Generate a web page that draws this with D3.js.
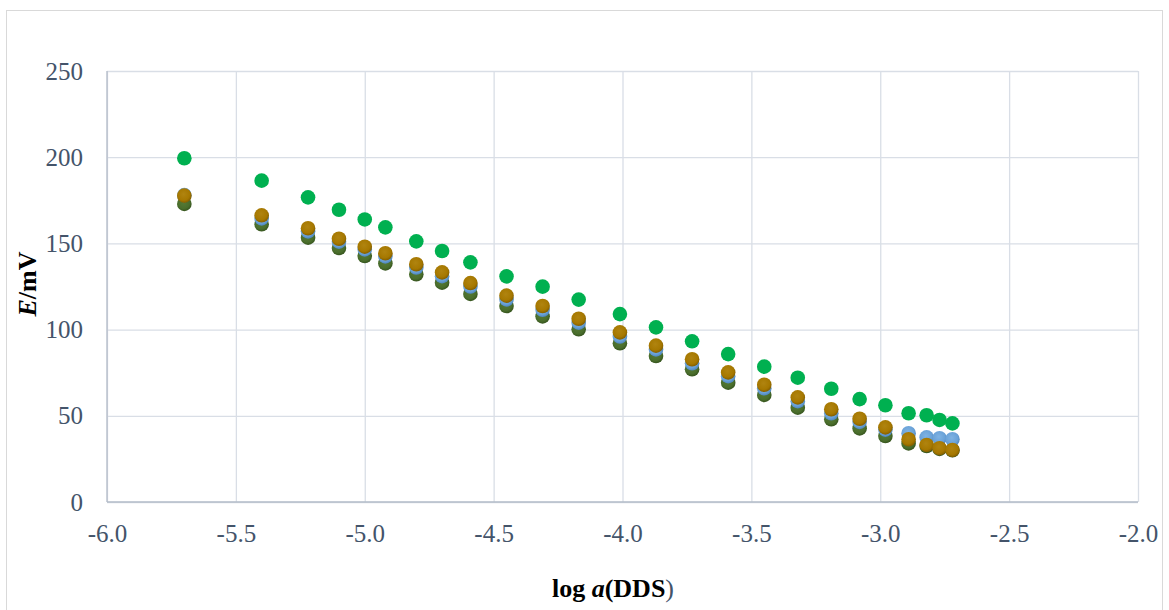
<!DOCTYPE html>
<html>
<head>
<meta charset="utf-8">
<script src="https://cdn.jsdelivr.net/npm/d3@7"></script>
<style>
  body { margin: 0; background: #fff; }
  svg text { font-family: "Liberation Serif", "Times New Roman", serif !important; }
</style>
</head>
<body>
<div id="graph"></div>
<script>
// log activity of DDS (x) and potential readings E/mV (four runs)
var logA = [-5.70, -5.40, -5.22, -5.10, -5.00, -4.92, -4.80, -4.70, -4.59, -4.45,
            -4.31, -4.17, -4.01, -3.87, -3.73, -3.59, -3.45, -3.32, -3.19, -3.08,
            -2.98, -2.89, -2.82, -2.77, -2.72];
var run1 = [199.4, 186.4, 176.7, 169.5, 163.9, 159.3, 151.2, 145.6, 139.0, 130.9,
            124.9, 117.4, 109.0, 101.3, 93.2, 85.8, 78.5, 72.1, 65.7, 59.7,
            56.1, 51.5, 50.3, 47.6, 45.6];
var run2 = [172.9, 161.1, 153.3, 147.3, 142.7, 138.4, 132.1, 127.2, 120.7, 113.7,
            107.7, 100.2, 92.1, 84.7, 77.0, 69.2, 62.1, 54.7, 48.0, 42.7,
            38.3, 34.0, 32.5, 30.8, 30.0];
var run3 = [178.0, 164.5, 157.0, 151.0, 146.5, 142.5, 136.0, 131.0, 125.0, 117.5,
            111.5, 104.0, 96.0, 88.5, 80.5, 73.0, 66.0, 58.5, 51.5, 46.5,
            42.0, 39.9, 37.5, 37.0, 36.4];
var run4 = [177.7, 166.3, 158.8, 152.7, 148.1, 144.3, 137.9, 133.2, 127.0, 119.7,
            113.7, 106.3, 98.4, 90.7, 82.8, 75.2, 68.0, 60.7, 53.8, 48.3,
            43.3, 36.4, 33.1, 31.2, 30.2];
var xTicks = [-6.0, -5.5, -5.0, -4.5, -4.0, -3.5, -3.0, -2.5, -2.0];
var yTicks = [0, 50, 100, 150, 200, 250];

var serif = '"Liberation Serif", "Times New Roman", serif';
var W = 1169, H = 610;
var margin = {top: 71, right: 31, bottom: 108, left: 107};
var width = W - margin.left - margin.right,
    height = H - margin.top - margin.bottom;

var svg = d3.select("#graph").append("svg")
    .attr("width", W)
    .attr("height", H)
    .attr("font-family", serif);

// marker shading like the office chart
var defs = svg.append("defs");
function shade(id, light, mid, dark) {
  var g = defs.append("radialGradient").attr("id", id)
      .attr("cx", "45%").attr("cy", "40%").attr("r", "60%");
  g.append("stop").attr("offset", "0%").attr("stop-color", light);
  g.append("stop").attr("offset", "70%").attr("stop-color", mid);
  g.append("stop").attr("offset", "100%").attr("stop-color", dark);
}
shade("gBlue", "#7fb3e3", "#6aa2d8", "#4f86bd");
shade("gDark", "#567a36", "#4a6e2c", "#36541e");
shade("gBrown", "#b08410", "#a67800", "#835e00");

// outer chart border
svg.append("rect")
    .attr("x", 6.5).attr("y", 10.5)
    .attr("width", 1156).attr("height", 640)
    .attr("fill", "none")
    .attr("stroke", "#d9d9d9");

var g = svg.append("g")
    .attr("transform", "translate(" + margin.left + "," + margin.top + ")");

var x = d3.scaleLinear().domain([-6, -2]).range([0, width]);
var y = d3.scaleLinear().domain([0, 250]).range([height, 0]);

// gridlines
g.append("g")
    .call(d3.axisLeft(y).tickValues(yTicks).tickSize(-width).tickFormat(""))
    .call(function(a) { a.select(".domain").remove(); })
    .selectAll("line").attr("stroke", "#d9dee6").attr("stroke-width", 1.3);
g.append("g")
    .attr("transform", "translate(0," + height + ")")
    .call(d3.axisBottom(x).tickValues(xTicks).tickSize(-height).tickFormat(""))
    .call(function(a) { a.select(".domain").remove(); })
    .selectAll("line").attr("stroke", "#d9dee6").attr("stroke-width", 1.3);

// axis lines
g.append("line")
    .attr("x1", 0).attr("x2", 0).attr("y1", 0).attr("y2", height)
    .attr("stroke", "#b3bcc8").attr("stroke-width", 1.3);
g.append("line")
    .attr("x1", 0).attr("x2", width).attr("y1", height).attr("y2", height)
    .attr("stroke", "#b3bcc8").attr("stroke-width", 1.3);

// tick labels
var yAxis = g.append("g")
    .call(d3.axisLeft(y).tickValues(yTicks).tickSize(0).tickPadding(24))
    .attr("font-family", serif)
    .attr("font-size", 25);
yAxis.select(".domain").remove();
yAxis.selectAll("text").attr("fill", "#44546a");

var xAxis = g.append("g")
    .attr("transform", "translate(0," + height + ")")
    .call(d3.axisBottom(x).tickValues(xTicks).tickSize(0).tickPadding(22))
    .attr("font-family", serif)
    .attr("font-size", 25);
xAxis.select(".domain").remove();
xAxis.selectAll("text")
    .attr("fill", "#44546a")
    .text(function(d) { return d.toFixed(1); });

// points
function dots(vals, fill) {
  g.append("g").selectAll("circle")
      .data(vals)
      .enter().append("circle")
      .attr("cx", function(d, i) { return x(logA[i]); })
      .attr("cy", function(d) { return y(d); })
      .attr("r", 7.3)
      .attr("fill", fill);
}
dots(run1, "#00b050");
dots(run2, "url(#gDark)");
dots(run3, "url(#gBlue)");
dots(run4, "url(#gBrown)");

// y axis label
var yl = svg.append("text")
    .attr("transform", "translate(36,284) rotate(-90)")
    .style("text-anchor", "middle")
    .style("font-size", "26px")
    .style("font-weight", "bold")
    .attr("fill", "#000");
yl.append("tspan").style("font-style", "italic").text("E");
yl.append("tspan").text("/mV");

// x axis label
var xl = svg.append("text")
    .attr("x", 613).attr("y", 597)
    .style("text-anchor", "middle")
    .style("font-size", "26px")
    .style("font-weight", "bold")
    .attr("fill", "#000");
xl.append("tspan").text("log ");
xl.append("tspan").style("font-style", "italic").text("a");
xl.append("tspan").text("(DDS");
xl.append("tspan").style("font-weight", "normal").attr("fill", "#44546a").text(")");
</script>
</body>
</html>
